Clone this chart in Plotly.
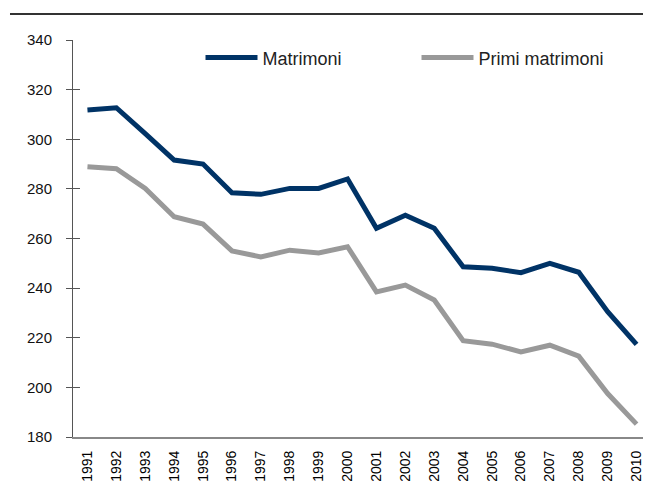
import plotly.graph_objects as go

anni = [str(a) for a in range(1991, 2011)]
matrimoni = [311.8, 312.7, 302.3, 291.6, 290.0, 278.4, 277.8, 280.2, 280.2, 284.0,
             264.1, 269.4, 264.1, 248.6, 248.0, 246.2, 250.0, 246.4, 230.5, 217.3]
primi_matrimoni = [288.9, 288.1, 280.2, 268.8, 265.8, 255.0, 252.6, 255.3, 254.2, 256.7,
                   238.5, 241.2, 235.2, 218.8, 217.4, 214.3, 217.0, 212.6, 197.5, 185.2]
y_ticks = [180, 200, 220, 240, 260, 280, 300, 320, 340]

fig = go.Figure()
fig.add_trace(go.Scatter(x=anni, y=matrimoni, name='Matrimoni', mode='lines',
                         line=dict(color='#003366', width=5)))
fig.add_trace(go.Scatter(x=anni, y=primi_matrimoni, name='Primi matrimoni', mode='lines',
                         line=dict(color='#999999', width=5)))
# asse di appoggio solo per i tick interni (tick che attraversano l'asse)
fig.add_trace(go.Scatter(x=[anni[0]], y=[None], yaxis='y2', showlegend=False, hoverinfo='skip'))

# la pagina ha 8px di margine sul body: la figura viene ridotta di conseguenza
fig.update_layout(
    width=643, height=493,
    margin=dict(l=65, r=0, t=32, b=64, autoexpand=False),
    plot_bgcolor='white', paper_bgcolor='white',
    font=dict(family='Liberation Sans, Arial, sans-serif', color='#222222'),
    showlegend=True,
    legend=dict(orientation='h', x=0.2206, y=0.955, xanchor='left', yanchor='middle',
                font=dict(size=18), itemwidth=52,
                entrywidth=149, bgcolor='rgba(0,0,0,0)'),
    xaxis=dict(type='category', range=[-0.5, 19.5], showgrid=False, zeroline=False,
               showline=True, linecolor='#888888', linewidth=2, ticks='',
               tickangle=-90, tickfont=dict(size=14, color='#000000'),
               ticklabelstandoff=6),
    yaxis=dict(range=[180, 340], tickvals=y_ticks, showgrid=False, zeroline=False,
               showline=True, linecolor='#555555', linewidth=1, ticks='outside',
               ticklen=6, tickcolor='#555555', tickfont=dict(size=15, color='#111111'),
               ticklabelstandoff=11),
    yaxis2=dict(range=[180, 340], tickvals=y_ticks, overlaying='y', side='left',
                showgrid=False, zeroline=False, showticklabels=False,
                ticks='inside', ticklen=7, tickcolor='#555555'),
)

fig.add_shape(type='line', xref='paper', yref='paper', x0=-0.109, x1=1.0,
              y0=1.0655, y1=1.0655, line=dict(color='#333333', width=2))

fig.write_html('out.html')
